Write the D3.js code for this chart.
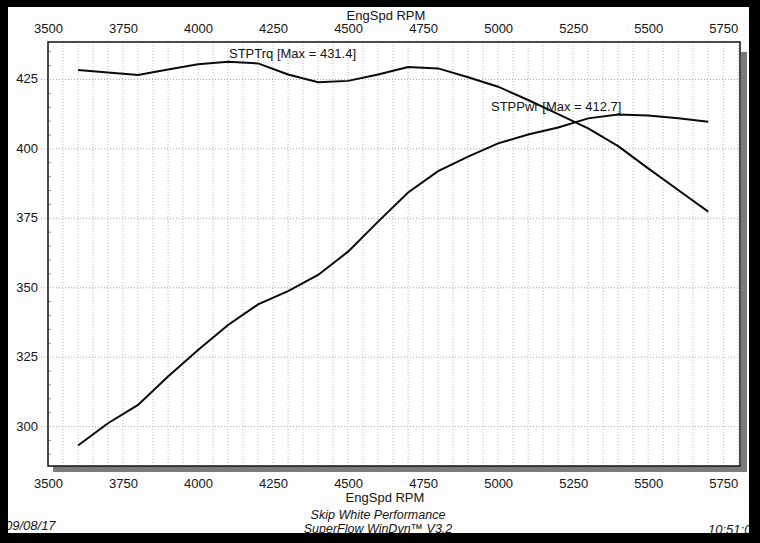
<!DOCTYPE html>
<html><head><meta charset="utf-8">
<script src="https://cdn.jsdelivr.net/npm/d3@7"></script>
<style>html,body{margin:0;padding:0;background:#000;}svg{display:block;}</style>
</head><body>
<script>
const rpm = [3600,3700,3800,3900,4000,4100,4200,4300,4400,4500,4600,4700,4800,4900,5000,5100,5200,5300,5400,5500,5600,5700];
const torque = [428.4,427.5,426.6,428.6,430.5,431.4,430.8,426.8,424.0,424.5,426.8,429.5,429.0,425.8,422.4,417.6,412.5,407.4,401.0,393.0,385.2,377.4];
const power = [293.2,301.2,307.8,318.0,327.6,336.6,344.0,348.8,354.6,363.0,373.8,384.3,392.0,397.2,402.0,405.2,407.7,411.0,412.4,412.0,411.0,409.8];
const xTicks = [3500,3750,4000,4250,4500,4750,5000,5250,5500,5750];
const yTicks = [300,325,350,375,400,425];
const xTitle = "EngSpd RPM";
const torqueLabel = "STPTrq [Max = 431.4]";
const powerLabel = "STPPwr [Max = 412.7]";
const shopName = "Skip White Performance";
const software = "SuperFlow WinDyn\u2122 V3.2";
const dateText = "09/08/17";
const timeText = "10:51:0";

const W = 760, H = 543;
const L = 48, R = 740, T = 42, B = 466;
const font = "'Liberation Sans', Arial, sans-serif";
const fs = 13;

const svg = d3.select("body").append("svg").attr("width", W).attr("height", H);
svg.append("rect").attr("width", W).attr("height", H).attr("fill", "#000");
svg.append("rect").attr("x", 8).attr("y", 7).attr("width", 741).attr("height", 526).attr("fill", "#fdfdfd");

const x = d3.scaleLinear().domain([3500, 5806]).range([L, R]);
const y = d3.scaleLinear().domain([285.8, 438.5]).range([B, T]);

// shadow
svg.append("rect").attr("x", L + 5).attr("y", B).attr("width", R - L + 2).attr("height", 6).attr("fill", "#7a7a7a");
svg.append("rect").attr("x", R + 1).attr("y", T + 10).attr("width", 6).attr("height", B - T - 4).attr("fill", "#7a7a7a");
svg.append("rect").attr("x", L).attr("y", T).attr("width", R - L).attr("height", B - T).attr("fill", "#fff");

// vertical grid every 50 rpm
const vGrid = d3.range(3550, 5801, 50);
svg.append("g").selectAll("line").data(vGrid).join("line")
  .attr("x1", d => x(d)).attr("x2", d => x(d)).attr("y1", T).attr("y2", B)
  .attr("stroke", "#b8b8b8").attr("stroke-width", 1).attr("stroke-dasharray", "1,2");
// horizontal grid
svg.append("g").selectAll("line").data(yTicks).join("line")
  .attr("x1", L - 7).attr("x2", R).attr("y1", d => y(d)).attr("y2", d => y(d))
  .attr("stroke", "#a8a8a8").attr("stroke-width", 1).attr("stroke-dasharray", "1,2");
// minor ticks on y axis
svg.append("g").selectAll("line").data(d3.range(290, 438, 5).filter(v => v % 25 !== 0)).join("line")
  .attr("x1", L).attr("x2", L + 3).attr("y1", d => y(d)).attr("y2", d => y(d))
  .attr("stroke", "#999").attr("stroke-width", 1);

// frame
svg.append("rect").attr("x", L).attr("y", T).attr("width", R - L).attr("height", B - T)
  .attr("fill", "none").attr("stroke", "#111").attr("stroke-width", 1.5);

// axes labels
const fmt = d3.format("d");
const gTop = svg.append("g").attr("transform", `translate(0,${T - 12})`)
  .call(d3.axisTop(x).tickValues(xTicks).tickFormat(fmt).tickSize(0).tickPadding(0));
const gBot = svg.append("g").attr("transform", `translate(0,${B + 19})`)
  .call(d3.axisBottom(x).tickValues(xTicks).tickFormat(fmt).tickSize(0).tickPadding(0));
const gLeft = svg.append("g").attr("transform", `translate(${L - 10},0)`)
  .call(d3.axisLeft(y).tickValues(yTicks).tickFormat(fmt).tickSize(0).tickPadding(0));
[gTop, gBot, gLeft].forEach(g => {
  g.select(".domain").remove();
  g.selectAll("text").attr("font-family", font).attr("font-size", fs).attr("fill", "#151515")
    .attr("dy", null).attr("y", g === gLeft ? null : 0).attr("dominant-baseline", "middle");
});

// lines
const line = d3.line().x((d, i) => x(rpm[i])).y(d => y(d));
svg.append("path").datum(torque).attr("d", line).attr("fill", "none").attr("stroke", "#0a0a0a").attr("stroke-width", 2);
svg.append("path").datum(power).attr("d", line).attr("fill", "none").attr("stroke", "#0a0a0a").attr("stroke-width", 2);

function txt(s, px, py, anchor, opts = {}) {
  return svg.append("text").attr("x", px).attr("y", py).attr("text-anchor", anchor)
    .attr("dominant-baseline", "middle").attr("font-family", font)
    .attr("font-size", opts.size || fs).attr("font-style", opts.italic ? "italic" : "normal")
    .attr("fill", "#151515").text(s);
}
txt(torqueLabel, 229, 55, "start");
txt(powerLabel, 491, 108, "start");
txt(xTitle, 386, 17, "middle");
txt(xTitle, 385, 499, "middle");
txt(shopName, 378, 516, "middle", {italic: true, size: 12.5});
txt(software, 378, 530, "middle", {italic: true, size: 12.5});
txt(dateText, 5, 527, "start", {italic: true});
txt(timeText, 708, 531, "start", {italic: true});

// black border overlay
svg.append("rect").attr("x", 0).attr("y", 533).attr("width", W).attr("height", 10).attr("fill", "#000");
svg.append("rect").attr("x", 0).attr("y", 0).attr("width", 8).attr("height", H).attr("fill", "#000");
svg.append("rect").attr("x", 749).attr("y", 0).attr("width", 11).attr("height", H).attr("fill", "#000");
svg.append("rect").attr("x", 0).attr("y", 0).attr("width", W).attr("height", 7).attr("fill", "#000");
</script>
</body></html>
